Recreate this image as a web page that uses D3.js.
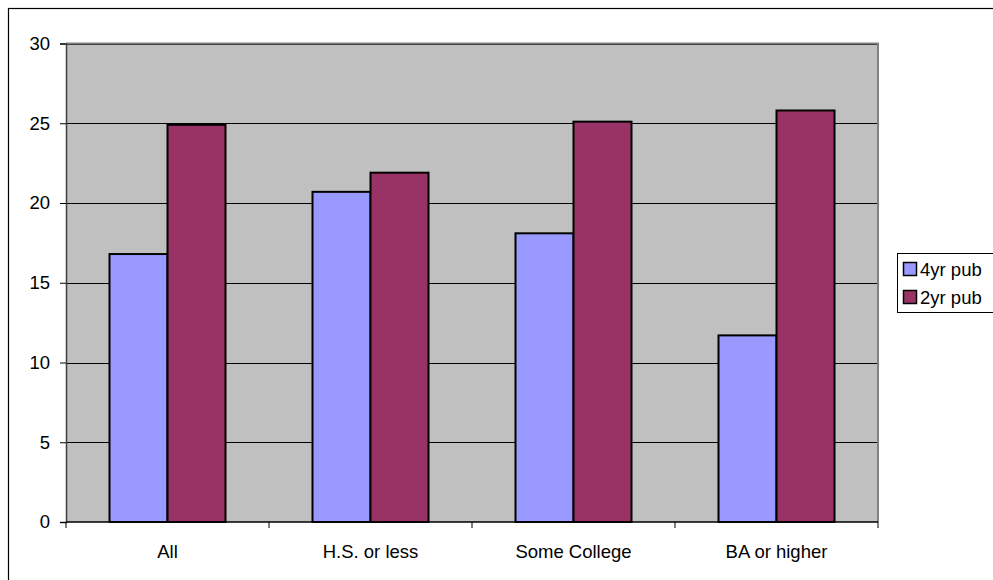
<!DOCTYPE html>
<html><head><meta charset="utf-8">
<script src="https://cdn.jsdelivr.net/npm/d3@7"></script>
<style>body{margin:0;background:#fff}svg{display:block}text{font-family:"Liberation Sans",Arial,sans-serif}</style>
</head><body>
<svg id="c" width="993" height="580"></svg>
<script>
const categories = ["All", "H.S. or less", "Some College", "BA or higher"];
const seriesNames = ["4yr pub", "2yr pub"];
const values4yr = [16.8, 20.7, 18.1, 11.7];
const values2yr = [24.9, 21.9, 25.1, 25.8];
const yTicks = [0, 5, 10, 15, 20, 25, 30];
const colors = ["#9999FF", "#993366"];

const svg = d3.select("#c");
const L = 66, R = 878, T = 43.5, B = 522;
const FS = 18.5;

svg.append("rect").attr("x", 8.5).attr("y", 8.5).attr("width", 1000).attr("height", 600)
  .attr("fill", "#fff").attr("stroke", "#000").attr("stroke-width", 1.2);

const x = d3.scaleBand().domain(categories).range([L, R]).paddingInner(0).paddingOuter(0);
const gap = 1.5;
const bw = x.bandwidth() / (2 + gap);
const xs = d3.scaleBand().domain(seriesNames).range([bw * gap / 2, bw * gap / 2 + 2 * bw]);
const y = d3.scaleLinear().domain([0, 30]).range([B, T]);

svg.append("rect").attr("x", L).attr("y", T).attr("width", R - L).attr("height", B - T).attr("fill", "#C0C0C0");

// gridlines
svg.append("g").selectAll("line").data(yTicks.filter(d => d > 0)).join("line")
  .attr("x1", L).attr("x2", R).attr("y1", d => Math.round(y(d)) + 0.5).attr("y2", d => Math.round(y(d)) + 0.5)
  .attr("stroke", "#000").attr("stroke-width", 1);

// plot border top/right
svg.append("path").attr("d", `M${L},${T} H${R} V${B}`).attr("fill", "none").attr("stroke", "#808080").attr("stroke-width", 2);

// bars
const data = categories.map((c, i) => ({c, vals: [values4yr[i], values2yr[i]]}));
const g = svg.append("g");
data.forEach(d => {
  d.vals.forEach((v, j) => {
    g.append("rect")
      .attr("x", x(d.c) + xs(seriesNames[j]))
      .attr("y", y(v))
      .attr("width", bw)
      .attr("height", y(0) - y(v))
      .attr("fill", colors[j]).attr("stroke", "#000").attr("stroke-width", 2);
  });
});

// y axis
const yAxis = d3.axisLeft(y).tickValues(yTicks).tickSize(6).tickPadding(10);
const ya = svg.append("g").attr("transform", `translate(${L},0)`).call(yAxis);
ya.select(".domain").attr("stroke", "#404040").attr("stroke-width", 1.5);
ya.selectAll("text").attr("font-size", FS).attr("fill", "#000").style("font-family", '"Liberation Sans",Arial,sans-serif');

// x axis
const xa = svg.append("g").attr("transform", `translate(0,${B})`);
xa.append("line").attr("x1", L).attr("x2", R).attr("y1", 0).attr("y2", 0).attr("stroke", "#000").attr("stroke-width", 1.5);
const bounds = categories.map(c => x(c)).concat([x(categories[categories.length - 1]) + x.bandwidth()]);
xa.selectAll("line.tk").data(bounds).join("line").attr("class", "tk")
  .attr("x1", d => d).attr("x2", d => d).attr("y1", 0).attr("y2", 6).attr("stroke", "#000");
xa.selectAll("text").data(categories).join("text")
  .attr("x", d => x(d) + x.bandwidth() / 2).attr("y", 36)
  .attr("text-anchor", "middle").attr("font-size", FS).text(d => d);

// legend
const lg = svg.append("g");
lg.append("rect").attr("x", 897.5).attr("y", 253.5).attr("width", 120).attr("height", 59)
  .attr("fill", "#fff").attr("stroke", "#000").attr("stroke-width", 1);
seriesNames.forEach((s, i) => {
  const cy = 269 + i * 28;
  lg.append("rect").attr("x", 903.5).attr("y", cy - 6.5).attr("width", 13).attr("height", 13)
    .attr("fill", colors[i]).attr("stroke", "#000").attr("stroke-width", 1.5);
  lg.append("text").attr("x", 920).attr("y", cy + 6.5).attr("font-size", FS).text(s);
});
</script>
</body></html>
